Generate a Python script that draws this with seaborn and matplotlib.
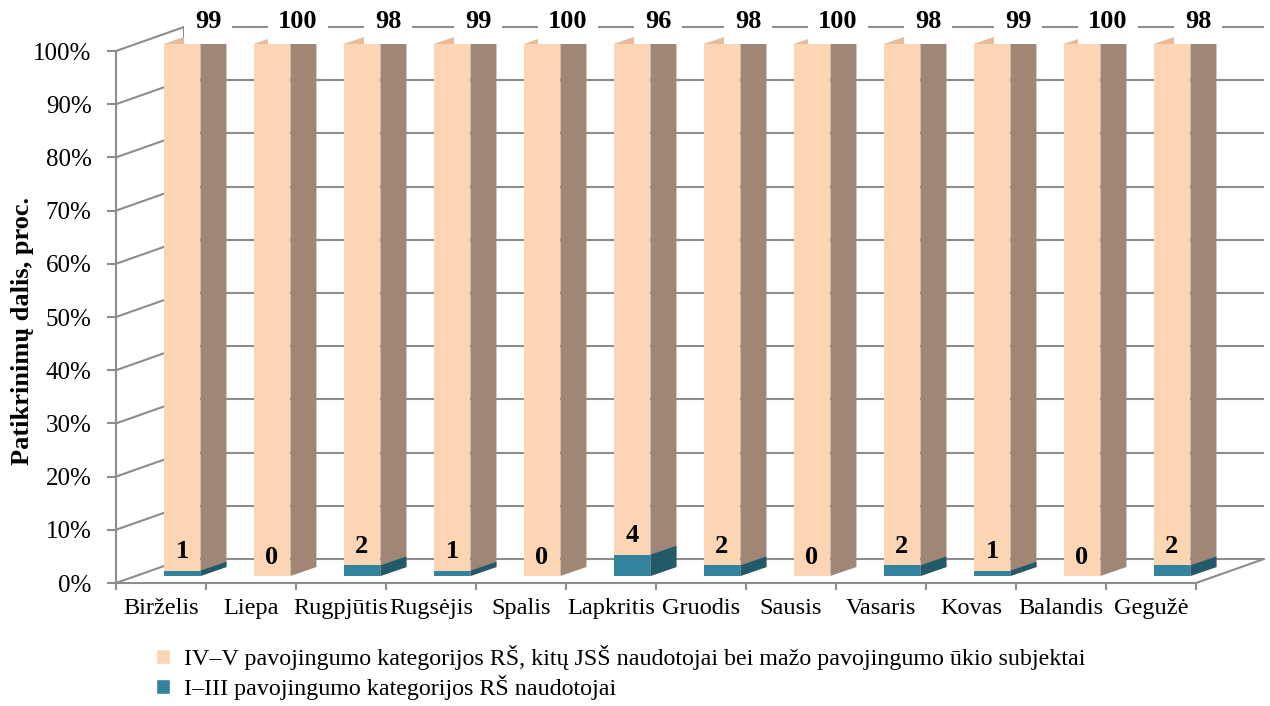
import numpy as np
import pandas as pd
import matplotlib
matplotlib.use('Agg')
import matplotlib.pyplot as plt
import matplotlib.transforms as mtransforms
from matplotlib.patches import Polygon, Patch
import seaborn as sns

# data
months = ['Birželis', 'Liepa', 'Rugpjūtis', 'Rugsėjis', 'Spalis', 'Lapkritis',
          'Gruodis', 'Sausis', 'Vasaris', 'Kovas', 'Balandis', 'Gegužė']
low_share = [1, 0, 2, 1, 0, 4, 2, 0, 2, 1, 0, 2]
high_share = [99, 100, 98, 99, 100, 96, 98, 100, 98, 99, 100, 98]
label_high = 'IV–V pavojingumo kategorijos RŠ, kitų JSŠ naudotojai bei mažo pavojingumo ūkio subjektai'
label_low = 'I–III pavojingumo kategorijos RŠ naudotojai'
y_ticks = list(range(0, 101, 10))

df = pd.DataFrame({'month': months, 'low': low_share, 'high': high_share})
df['total'] = df['low'] + df['high']

PEACH, PEACH_SIDE, PEACH_TOP = '#FCD5B5', '#A08775', '#E6BC9A'
TEAL, TEAL_SIDE = '#31849B', '#215A69'
GRID = '#8C8C8C'

# fake 3D offsets in pixels
F = np.array([21, 7])   # bar front from the front plane
B = np.array([26, 9])   # bar depth
D = np.array([68, 24])  # wall depth

sns.set_theme(style='white')
plt.rcParams['font.family'] = ['Liberation Serif', 'DejaVu Serif']
plt.rcParams.update({'text.color': 'black', 'axes.labelcolor': 'black',
                     'xtick.color': 'black', 'ytick.color': 'black'})

fig = plt.figure(figsize=(12.7, 7.06), dpi=100)
ax = fig.add_axes([116 / 1270, 123 / 706, 1080 / 1270, 532 / 706])
ax.patch.set_alpha(0)

sns.barplot(data=df, x='month', y='total', color=PEACH, width=0.41, saturation=1,
            errorbar=None, ax=ax, zorder=3, linewidth=0)
sns.barplot(data=df, x='month', y='low', color=TEAL, width=0.41, saturation=1,
            errorbar=None, ax=ax, zorder=4, linewidth=0)
ax.set_xlim(-0.5, len(months) - 0.5)
ax.set_ylim(0, 100)
ax.autoscale(False)

ident = mtransforms.IdentityTransform()
off_F = mtransforms.ScaledTranslation(F[0] / 100, F[1] / 100, fig.dpi_scale_trans)
off_D = mtransforms.ScaledTranslation(D[0] / 100, D[1] / 100, fig.dpi_scale_trans)


def px(x, y):
    return ax.transData.transform((x, y))


# walls and floor
ax.hlines(y_ticks, -0.5, len(months) - 0.5, colors=GRID, lw=1.5,
          transform=ax.transData + off_D, zorder=1, clip_on=False)
for v in y_ticks:
    p0 = px(-0.5, v)
    ax.plot([p0[0], p0[0] + D[0]], [p0[1], p0[1] + D[1]], color=GRID, lw=1.5,
            transform=ident, zorder=1, clip_on=False)
p0, p1 = px(-0.5, 0) + D, px(-0.5, 100) + D
ax.plot([p0[0], p1[0]], [p0[1], p1[1]], color=GRID, lw=1.5, transform=ident, zorder=1, clip_on=False)
p0 = px(len(months) - 0.5, 0)
ax.plot([p0[0], p0[0] + D[0]], [p0[1], p0[1] + D[1]], color=GRID, lw=1.5,
        transform=ident, zorder=1, clip_on=False)

# side and top faces of the bars
for cont, side_col, top_col, z in [(ax.containers[0], PEACH_SIDE, PEACH_TOP, 3),
                                   (ax.containers[1], TEAL_SIDE, None, 4)]:
    for r in cont:
        r.set_transform(ax.transData + off_F)
        r.set_clip_on(False)
        h = r.get_height()
        if h <= 0:
            continue
        x0, y0, w = r.get_x(), r.get_y(), r.get_width()
        fr_b = px(x0 + w, y0) + F
        fr_t = px(x0 + w, y0 + h) + F
        fl_t = px(x0, y0 + h) + F
        ax.add_patch(Polygon([fr_b, fr_b + B, fr_t + B, fr_t], closed=True, facecolor=side_col,
                             edgecolor='none', transform=ident, zorder=z, clip_on=False))
        if top_col:
            ax.add_patch(Polygon([fl_t, fr_t, fr_t + B, fl_t + B], closed=True, facecolor=top_col,
                                 edgecolor='none', transform=ident, zorder=z, clip_on=False))

# value labels
for i, v in enumerate(high_share):
    ax.annotate(str(v), xy=(i, 100), xytext=(F[0] + B[0], 29), textcoords='offset pixels',
                ha='center', va='center', fontsize=19, fontweight='bold', zorder=6,
                bbox=dict(boxstyle='square,pad=0.4', facecolor='white', edgecolor='none'))
for i, v in enumerate(low_share):
    ax.annotate(str(v), xy=(i, v), xytext=(F[0], 26), textcoords='offset pixels',
                ha='center', va='center', fontsize=19, fontweight='bold', zorder=6)

# axes styling
for s in ['top', 'right']:
    ax.spines[s].set_visible(False)
for s in ['left', 'bottom']:
    ax.spines[s].set_color(GRID)
    ax.spines[s].set_linewidth(1.5)
ax.set_yticks(y_ticks)
ax.set_yticklabels([f'{v}%' for v in y_ticks])
ax.tick_params(axis='y', left=True, length=6.5, width=1.5, color=GRID, pad=11, labelsize=18)
ax.set_xticks(range(len(months)))
ax.set_xticklabels(months)
ax.set_xticks(np.arange(-0.5, len(months), 1), minor=True)
ax.tick_params(axis='x', which='major', length=0, pad=11, labelsize=17.5)
ax.tick_params(axis='x', which='minor', bottom=True, length=5, width=1.5, color=GRID)
ax.set_xlabel('')
ax.set_ylabel('Patikrinimų dalis, proc.', fontsize=19, fontweight='bold')
ax.yaxis.set_label_coords((34 - 116) / 1080, 0.474)

handles = [Patch(facecolor=PEACH, label=label_high), Patch(facecolor=TEAL, label=label_low)]
fig.legend(handles=handles, loc='upper left', bbox_to_anchor=(156 / 1270, 1 - 645 / 706),
           frameon=False, fontsize=17.3, handlelength=0.6, handleheight=0.6,
           handletextpad=0.55, labelspacing=0.2, borderpad=0, borderaxespad=0)

fig.savefig('out.png', dpi=100)
